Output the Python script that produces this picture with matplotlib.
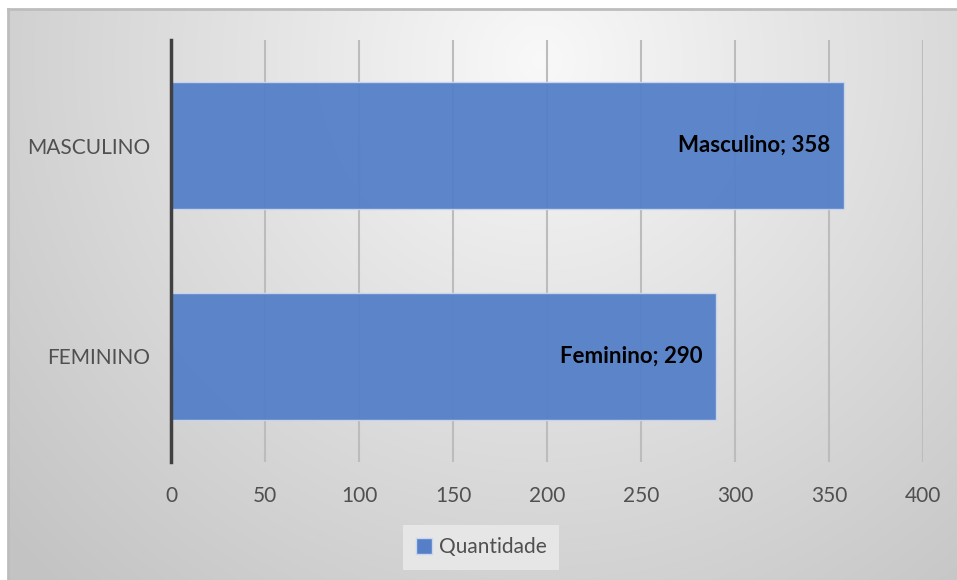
import numpy as np
import matplotlib.pyplot as plt
from matplotlib.patches import Patch

categorias = ["FEMININO", "MASCULINO"]
rotulos = ["Feminino", "Masculino"]
quantidade = [290, 358]
ticks_x = [0, 50, 100, 150, 200, 250, 300, 350, 400]

plt.rcParams['font.family'] = ['Lato', 'DejaVu Sans']

W, H = 957, 580
fig = plt.figure(figsize=(W / 100, H / 100), dpi=100)
fig.patch.set_facecolor('white')

# fundo com gradiente radial (area do grafico)
x0, ytop = 8, 9
bg = fig.add_axes([x0 / W, 0, 1 - x0 / W, (H - ytop) / H], zorder=0)
xx, yy = np.meshgrid(np.arange(x0, W), np.arange(ytop, H))
d = np.hypot(xx - 540, (yy - 60) * 1.0)
g = 0.975 - 0.21 * np.clip(d / 720, 0, 1)
bg.imshow(np.dstack([g, g, g]), aspect='auto', extent=[0, 1, 0, 1], origin='upper')
bg.set_xlim(0, 1)
bg.set_ylim(0, 1)
bg.set_xticks([])
bg.set_yticks([])
for s in ['right', 'bottom']:
    bg.spines[s].set_visible(False)
for s in ['top', 'left']:
    bg.spines[s].set_color('#bdbdbd')
    bg.spines[s].set_linewidth(2)

ax = fig.add_axes([171 / W, (H - 462) / H, (923 - 171) / W, (462 - 40) / H], zorder=1)
ax.set_facecolor('none')

pos = np.arange(len(categorias))
bars = ax.barh(pos, quantidade, height=0.6, color='#5580c8', alpha=0.95,
               edgecolor='#c9d6ee', linewidth=1, zorder=2, label='Quantidade')

for p, v, r in zip(pos, quantidade, rotulos):
    ax.annotate(f"{r}; {v}", xy=(v, p), xytext=(-10, 0), textcoords='offset points',
                ha='right', va='center', fontsize=16, fontweight='bold', color='black', zorder=3)

ax.set_xlim(0, 400)
ax.set_ylim(-0.5, 1.5)
ax.set_xticks(ticks_x)
ax.set_yticks(pos)
ax.set_yticklabels(categorias)
ax.grid(axis='x', color='#bcbcbc', linewidth=1.5, zorder=1)
ax.set_axisbelow(True)
ax.tick_params(axis='both', length=0, labelsize=15, labelcolor='#505050')
ax.tick_params(axis='x', pad=17)
ax.tick_params(axis='y', pad=15)
for s in ['top', 'right', 'bottom']:
    ax.spines[s].set_visible(False)
ax.spines['left'].set_color('#404040')
ax.spines['left'].set_linewidth(2.5)

leg = fig.legend(handles=[Patch(facecolor='#5580c8', edgecolor='#c9d6ee')], labels=['Quantidade'],
                 loc='center', bbox_to_anchor=(481 / W, (H - 547) / H), fontsize=15,
                 handlelength=0.8, handleheight=0.8, handletextpad=0.3,
                 fancybox=False, framealpha=1, borderpad=0.6)
leg.get_frame().set_facecolor('#e6e6e6')
leg.get_frame().set_edgecolor('none')
for t in leg.get_texts():
    t.set_color('#505050')

fig.savefig('out.png', dpi=100)
